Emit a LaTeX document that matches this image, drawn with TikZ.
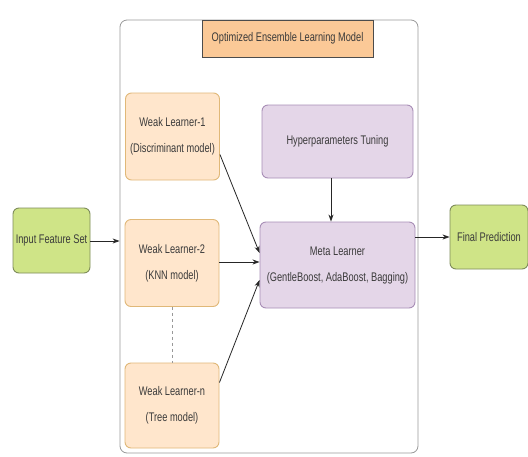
\documentclass[tikz,border=0pt]{standalone}
\usepackage{fontspec}
\setmainfont{Liberation Sans}[FakeStretch=0.74]
\usetikzlibrary{arrows.meta,calc}
\definecolor{wlfill}{HTML}{FFE6CC}
\definecolor{wldraw}{HTML}{E0B878}
\definecolor{titfill}{HTML}{FBC997}
\definecolor{pfill}{HTML}{E4D6E8}
\definecolor{pdraw}{HTML}{A88EB6}
\definecolor{gfill}{HTML}{CFE487}
\definecolor{gdraw}{HTML}{7E8C5A}
\definecolor{txt}{HTML}{3A3A3A}
\tikzset{
  box/.style={rectangle, rounded corners=6pt, line width=0.9pt, align=center, text=txt, font=\fontsize{12.5}{26}\selectfont, inner sep=0pt},
  wl/.style={box, fill=wlfill, draw=wldraw, minimum width=94pt, minimum height=87pt},
  pbox/.style={box, fill=pfill, draw=pdraw},
  gbox/.style={box, fill=gfill, draw=gdraw, minimum width=77pt, minimum height=65pt},
  conn/.style={draw=black!85, line width=0.8pt, -{Stealth[length=7pt,width=5pt]}}
}
\begin{document}
\begin{tikzpicture}[x=1pt,y=-1pt]
\useasboundingbox[fill=white] (0,0) rectangle (528,456);
\node[rectangle, rounded corners=7pt, draw=black!40, line width=0.8pt, minimum width=298pt, minimum height=433pt, inner sep=0pt] (cont) at (269,236.5) {};
\node[box, rounded corners=0pt, fill=titfill, draw=black!70, minimum width=171pt, minimum height=37pt] (title) at (287.5,38.5) {Optimized Ensemble Learning Model};
\node[wl] (wl1) at (172.5,136.5) {Weak Learner-1\\(Discriminant model)};
\node[wl] (wl2) at (172,263) {Weak Learner-2\\(KNN model)};
\node[wl, minimum height=85pt] (wln) at (172,405.5) {Weak Learner-n\\(Tree model)};
\node[pbox, minimum width=151pt, minimum height=73pt] (hyp) at (337.5,141.5) {Hyperparameters Tuning};
\node[pbox, minimum width=155pt, minimum height=86pt] (meta) at (337.5,265) {Meta Learner\\(GentleBoost, AdaBoost, Bagging)};
\node[gbox] (inp) at (51.5,240.5) {Input Feature Set};
\node[gbox, minimum width=78pt, minimum height=64pt] (fin) at (489,237) {Final Prediction};
\draw[black!40, line width=1pt, dash pattern=on 3pt off 3pt] (wl2.south) -- (wln.north);
\draw[conn] (inp.east |- 0,241) -- (cont.west |- 0,241);
\draw[conn] ($(wl1.east)+(0,18)$) -- ($(meta.west)+(0,-12)$);
\draw[conn] ($(wl2.east)+(0,-1)$) -- ($(meta.west)+(0,-3)$);
\draw[conn] ($(wln.east)+(0,-23)$) -- ($(meta.west)+(0,15)$);
\draw[conn] (hyp.south -| 331,0) -- (meta.north -| 331,0);
\draw[conn] (meta.east |- 0,237) -- (fin.west |- 0,237);
\end{tikzpicture}
\end{document}
